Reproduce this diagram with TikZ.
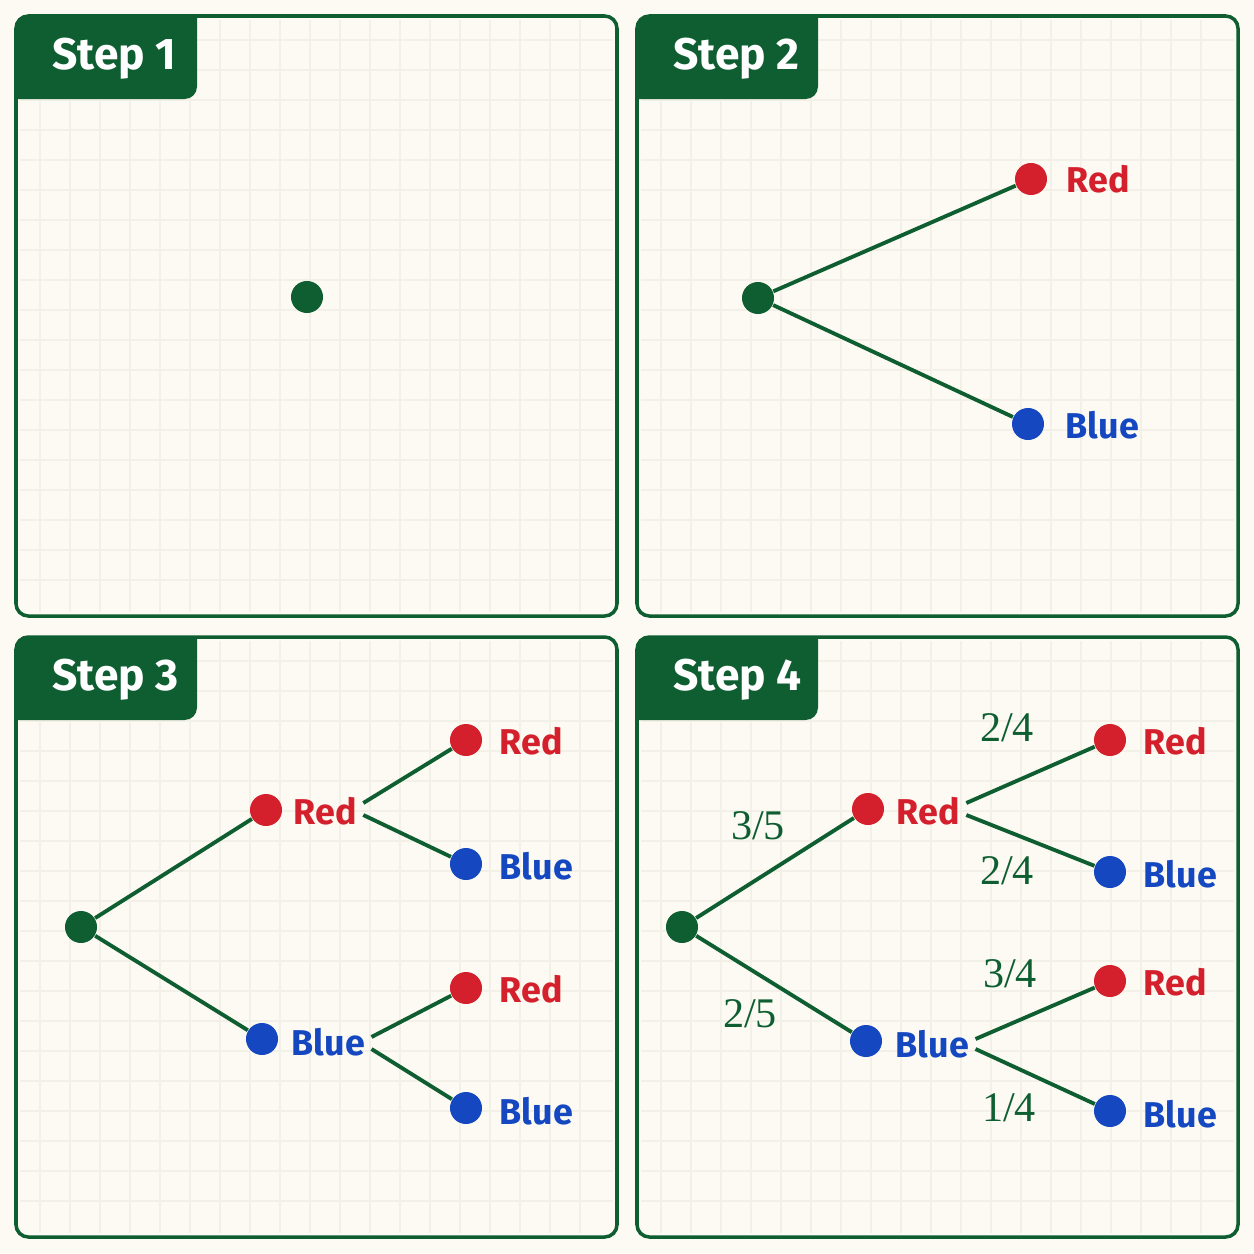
\documentclass[tikz,border=0pt]{standalone}
\usepackage{fontspec}
\setmainfont{Liberation Serif}
\setsansfont{Fira Sans}
\usetikzlibrary{positioning}
\definecolor{paper}{HTML}{FCFAF2}
\definecolor{gridc}{HTML}{F3F1E7}
\definecolor{dkgreen}{HTML}{0E5E32}
\definecolor{redc}{HTML}{D4202C}
\definecolor{bluec}{HTML}{1447C0}

\begin{document}
\begin{tikzpicture}[
  x=0.01cm, y=-0.01cm,
  panel/.style={
    draw=dkgreen,
    line width=1pt,
    rounded corners=3.5pt
  },
  tab/.style={
    fill=dkgreen
  },
  title/.style={
    text=white,
    font=\sffamily\bfseries\fontsize{12.6}{12.6}\selectfont,
    anchor=west
  },
  dot/.style={
    circle,
    fill=#1,
    minimum size=0.32cm,
    inner sep=0pt
  },
  lbl/.style={
    text=#1,
    font=\sffamily\fontsize{10.2}{10.2}\selectfont\bfseries,
    anchor=west,
    inner sep=0pt
  },
  frac/.style={
    text=dkgreen,
    font=\fontsize{12}{12}\selectfont
  },
  branch/.style={
    draw=dkgreen,
    line width=1.1pt
  }
]
\fill[paper] (0,0) rectangle (1254,1254);
\useasboundingbox (0,0) rectangle (1254,1254);

% Panels and tabs
\foreach \px/\py/\n in {0/0/1,621/0/2,0/621/3,621/621/4} {
  \begin{scope}[shift={(\px,\py)}]
    \foreach \g in {40,70,...,600} {
      \draw[gridc] (\g,20) -- (\g,612);
      \draw[gridc] (20,\g) -- (613,\g);
    }
    \draw[panel] (16,16) rectangle (617,616);
    \fill[tab] (16,99) [rounded corners=3.5pt] -- (16,16) [sharp corners] -- (197,16)
      [rounded corners=3.5pt] -- (197,99) [sharp corners] -- cycle;
    \node[title] (t\n) at (40,59) {Step \n};
  \end{scope}
}

% Step 1
\node[dot=dkgreen] (a0) at (307,297) {};

% Step 2
\node[dot=dkgreen] (b0) at (758,298) {};
\node[dot=redc] (br) at (1031,179) {};
\node[dot=bluec] (bb) at (1028,424) {};
\node[lbl=redc] (brl) at (1066,179) {Red};
\node[lbl=bluec] (bbl) at (1065,425) {Blue};
\draw[branch] (b0) -- (br);
\draw[branch] (b0) -- (bb);

% Step 3
\node[dot=dkgreen] (c0) at (81,927) {};
\node[dot=redc] (cr) at (266,810) {};
\node[dot=bluec] (cb) at (262,1039) {};
\node[lbl=redc] (crl) at (293,811) {Red};
\node[lbl=bluec] (cbl) at (291,1042) {Blue};
\node[dot=redc] (crr) at (466,740) {};
\node[dot=bluec] (crb) at (466,864) {};
\node[dot=redc] (cbr) at (466,988) {};
\node[dot=bluec] (cbb) at (466,1108) {};
\node[lbl=redc] at (499,741) {Red};
\node[lbl=bluec] at (499,866) {Blue};
\node[lbl=redc] at (499,989) {Red};
\node[lbl=bluec] at (499,1111) {Blue};
\draw[branch] (c0) -- (cr);
\draw[branch] (c0) -- (cb);
\draw[branch] ([shift={(6,-8)}]crl.east) -- (crr);
\draw[branch] ([shift={(6,4)}]crl.east) -- (crb);
\draw[branch] ([shift={(6,-5)}]cbl.east) -- (cbr);
\draw[branch] ([shift={(6,7)}]cbl.east) -- (cbb);

% Step 4
\node[dot=dkgreen] (d0) at (682,927) {};
\node[dot=redc] (dr) at (868,809) {};
\node[dot=bluec] (db) at (866,1041) {};
\node[lbl=redc] (drl) at (896,811) {Red};
\node[lbl=bluec] (dbl) at (895,1044) {Blue};
\node[dot=redc] (drr) at (1110,740) {};
\node[dot=bluec] (drb) at (1110,872) {};
\node[dot=redc] (dbr) at (1110,981) {};
\node[dot=bluec] (dbb) at (1110,1111) {};
\node[lbl=redc] at (1143,741) {Red};
\node[lbl=bluec] at (1143,874) {Blue};
\node[lbl=redc] at (1143,982) {Red};
\node[lbl=bluec] at (1143,1114) {Blue};
\draw[branch] (d0) -- (dr);
\draw[branch] (d0) -- (db);
\draw[branch] ([shift={(6,-8)}]drl.east) -- (drr);
\draw[branch] ([shift={(6,4)}]drl.east) -- (drb);
\draw[branch] ([shift={(6,-5)}]dbl.east) -- (dbr);
\draw[branch] ([shift={(6,5)}]dbl.east) -- (dbb);
\node[frac] at (758,826) {3/5};
\node[frac] at (750,1014) {2/5};
\node[frac] at (1007,728) {2/4};
\node[frac] at (1007,871) {2/4};
\node[frac] at (1010,974) {3/4};
\node[frac] at (1009,1108) {1/4};
\end{tikzpicture}
\end{document}
